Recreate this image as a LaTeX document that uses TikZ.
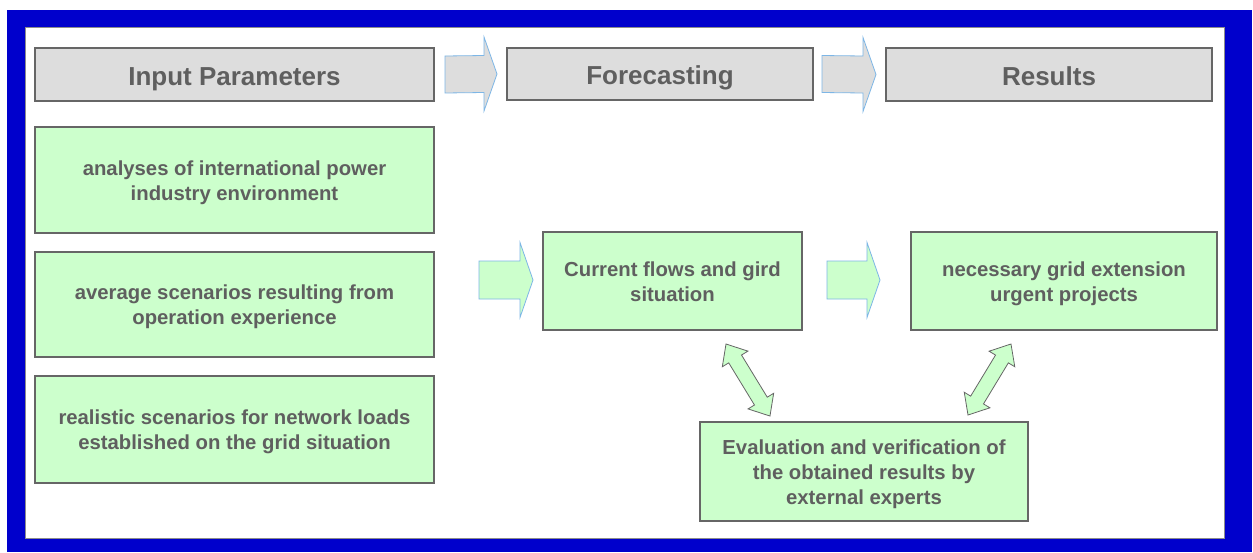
\documentclass[tikz,border=0pt]{standalone}
\usepackage{fontspec}
\setmainfont{Liberation Sans}
\usetikzlibrary{calc}

\definecolor{frameblue}{HTML}{0000CC}
\definecolor{framegray}{HTML}{8C8C8C}
\definecolor{boxgray}{HTML}{666666}
\definecolor{headfill}{HTML}{DDDDDD}
\definecolor{greenfill}{HTML}{CCFFCC}
\definecolor{txtgray}{HTML}{5F5F5F}
\definecolor{arrowblue}{HTML}{7DB6E6}

% fixed height of first line and depth of last line, so every box centres alike
\newcommand\firstln{\rule{0pt}{21pt}}
\newcommand\lastln{\rule[-6pt]{0pt}{6pt}}

\tikzset{
  basebox/.style={draw=boxgray, line width=2.8pt, anchor=north west,
    inner sep=0pt, outer sep=0pt, align=center, text=txtgray},
  headbox/.style={basebox, fill=headfill, text height=24pt, text depth=3pt,
    font=\fontsize{26}{30}\selectfont\bfseries},
  greenbox/.style={basebox, fill=greenfill,
    font=\fontsize{20.3}{25}\selectfont\bfseries},
  headarrow/.style={draw=arrowblue, line width=0.8pt, fill=headfill, line join=miter},
  flowarrow/.style={draw=arrowblue, line width=0.8pt, fill=greenfill, line join=miter},
  dblarrow/.style={draw=boxgray, line width=0.8pt, fill=greenfill, line join=miter},
}

% block arrow from #2 (tail) to #3 (tip); #4 shaft half height, #5 head half height
\newcommand\blockarrow[5]{%
  \draw[#1] ($(#2)+(0,-#4)$) -- ($(#3)+(-13,-#4)$) -- ($(#3)+(-13,-#5)$) -- (#3)
    -- ($(#3)+(-13,#5)$) -- ($(#3)+(-13,#4)$) -- ($(#2)+(0,#4)$) -- cycle;}

% double-headed arrow of length #1 along the local x axis
\newcommand\twoway[1]{%
  \draw[dblarrow] (0,0) -- (17.5,15) -- (17.5,7.5) -- (#1-17.5,7.5) -- (#1-17.5,15)
    -- (#1,0) -- (#1-17.5,-15) -- (#1-17.5,-7.5) -- (17.5,-7.5) -- (17.5,-15) -- cycle;}

\begin{document}
\begin{tikzpicture}[x=1pt, y=-1pt]
  \useasboundingbox (0,0) rectangle (1253,552);
  \fill[white] (0,0) rectangle (1253,552);

  % frame
  \fill[frameblue] (7,10) rectangle (1252,552);
  \draw[framegray, line width=1pt, fill=white] (25,27) rectangle (1224,538);

  % column headers
  \node[headbox, minimum width=399pt, minimum height=53pt] (ip) at (35,48) {Input Parameters};
  \node[headbox, minimum width=306pt, minimum height=52pt] (fc) at (507,48) {Forecasting};
  \node[headbox, minimum width=326pt, minimum height=53pt] (rs) at (886,48) {Results};

  % input parameters
  \node[greenbox, minimum width=399pt, minimum height=106pt] (in1) at (35,127)
    {\firstln analyses of international power\\industry environment\lastln};
  \node[greenbox, minimum width=399pt, minimum height=105pt] (in2) at (35,252)
    {\firstln average scenarios resulting from\\operation experience\lastln};
  \node[greenbox, minimum width=399pt, minimum height=107pt] (in3) at (35,376)
    {\firstln realistic scenarios for network loads\\established on the grid situation\lastln};

  % forecasting and results
  \node[greenbox, minimum width=259pt, minimum height=98pt] (curr) at (543,232)
    {\firstln Current flows and gird\\situation\lastln};
  \node[greenbox, minimum width=306pt, minimum height=98pt] (grid) at (911,232)
    {\firstln necessary grid extension\\urgent projects\lastln};
  \node[greenbox, minimum width=328pt, minimum height=99pt] (eval) at (700,422)
    {\firstln Evaluation and verification of\\the obtained results by\\external experts\lastln};

  % header arrows
  \coordinate (h1a) at ($(ip.east)+(11,0)$);
  \coordinate (h1b) at ($(fc.west)+(-10,0)$);
  \coordinate (h2a) at ($(fc.east)+(9,0)$);
  \coordinate (h2b) at ($(rs.west)+(-10,0)$);
  \blockarrow{headarrow}{h1a}{h1b}{18.5}{37}
  \blockarrow{headarrow}{h2a}{h2b}{18.5}{37}

  % flow arrows
  \coordinate (f1a) at ($(curr.west)+(-64,-1)$);
  \coordinate (f1b) at ($(curr.west)+(-10,-1)$);
  \coordinate (f2a) at ($(curr.east)+(25,-1)$);
  \coordinate (f2b) at ($(grid.west)+(-31,-1)$);
  \blockarrow{flowarrow}{f1a}{f1b}{19}{37.5}
  \blockarrow{flowarrow}{f2a}{f2b}{19}{37.5}

  % feedback between results and the expert evaluation
  \coordinate (d1) at (726,344);
  \coordinate (d2) at (1011,344);
  \begin{scope}[shift={(d1)}, rotate=-58.6]
    \twoway{84.4}
  \end{scope}
  \begin{scope}[shift={(d2)}, rotate=-121.2]
    \twoway{83}
  \end{scope}
\end{tikzpicture}
\end{document}
